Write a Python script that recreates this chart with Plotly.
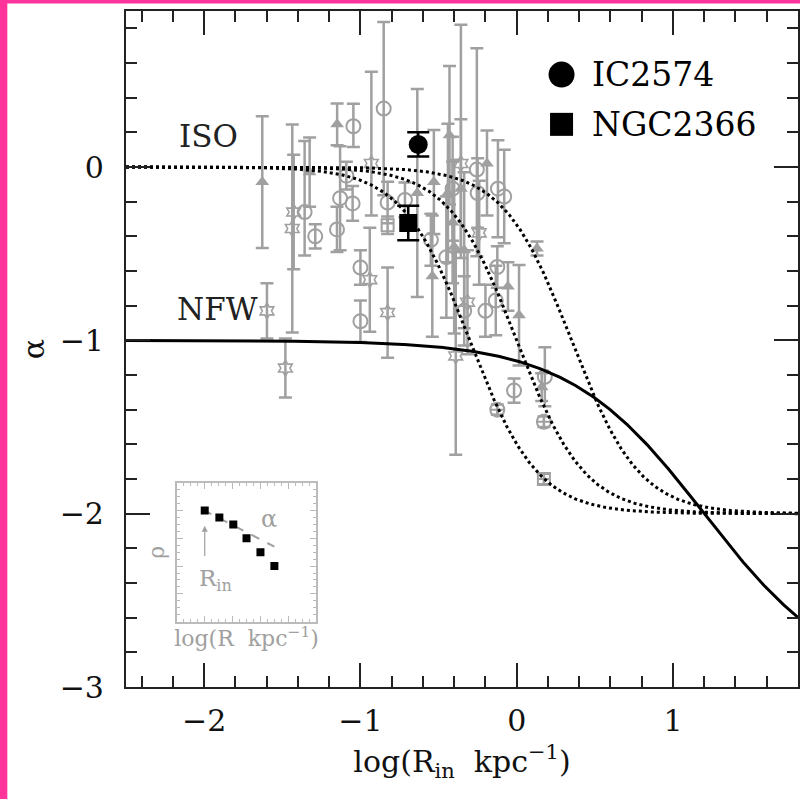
import numpy as np
import plotly.graph_objects as go

# ---------------- data ----------------
# open circles
circ_x = [-1.357, -1.289, -1.045, -1.13, -1.15, -1.05, -1.00, -1.00, -1.09, -0.851,
          -0.826, -0.715, -0.549, -0.45, -0.41, -0.336, -0.255, -0.25, -0.12, -0.08,
          -0.124, -0.20, -0.134, 0.18, -0.017]
circ_y = [-0.26, -0.40, 0.235, -0.18, -0.36, -0.21, -0.58, -0.89, -0.05, 0.337,
          -0.205, -0.19, -0.42, -0.52, -0.125, -0.83, -0.015, -0.15, -0.125, -0.17,
          -0.577, -0.83, -0.77, -1.21, -1.29]
circ_up = [0.41, 0.07, 0.13, 0.30, 0.13, 0.10, 0.10, 0.12, 0.08, 0.50,
           0.12, 0.10, 0.15, 0.35, 0.30, 0.20, 0.70, 0.20, 0.28, 0.27,
           0.12, 0.15, 0.20, 0.17, 0.07]
circ_dn = [0.25, 0.07, 0.12, 0.30, 0.13, 0.10, 0.10, 0.12, 0.08, 0.50,
           0.12, 0.10, 0.15, 0.35, 0.30, 0.20, 0.50, 0.20, 0.28, 0.27,
           0.12, 0.15, 0.20, 0.17, 0.07]

# crossed circles
ccirc_x = [-0.124, 0.174]
ccirc_y = [-1.40, -1.47]
ccirc_e = [0.03, 0.03]

# filled triangles
tri_x = [-1.628, -1.325, -1.149, -0.636, -0.53, -0.54, -0.43, -0.44, -0.41, -0.40,
         -0.357, -0.336, -0.19, -0.056, 0.015, 0.13, 0.16]
tri_y = [-0.087, -0.03, 0.246, -0.15, -0.087, -0.63, 0.183, -0.15, -0.32, -0.46,
         -0.125, -0.48, 0.02, -0.69, -0.855, -0.47, -1.27]
tri_up = [0.38, 0.20, 0.12, 0.60, 0.30, 0.35, 0.40, 0.40, 0.35, 0.50,
          0.40, 0.45, 0.19, 0.14, 0.29, 0.04, 0.08]
tri_dn = [0.38, 0.20, 0.12, 0.60, 0.30, 0.35, 0.40, 0.40, 0.35, 0.50,
          0.40, 0.45, 0.30, 0.14, 0.29, 0.04, 0.08]

# stars
star_x = [-1.427, -1.436, -1.598, -1.48, -0.93, -0.94, -0.826, -0.357, -0.315, -0.39, -0.24]
star_y = [-0.26, -0.355, -0.83, -1.16, 0.02, -0.65, -0.84, 0.02, -0.78, -1.09, -0.38]
star_up = [0.33, 0.60, 0.16, 0.17, 0.53, 0.30, 0.26, 0.80, 0.30, 0.60, 0.30]
star_dn = [0.33, 0.60, 0.16, 0.17, 0.30, 0.30, 0.26, 0.50, 0.30, 0.57, 0.30]

# open squares
sq_x = [-0.826]
sq_y = [-0.336]
sq_e = [0.05]

# crossed squares
csq_x = [0.174]
csq_y = [-1.80]
csq_e = [0.03]

# highlighted galaxies
gal_names = ["IC2574", "NGC2366"]
gal_x = [-0.63, -0.694]
gal_y = [0.13, -0.323]
gal_e = [0.07, 0.10]

# model parameters
iso_log_rc = [-0.30, 0.0, 0.35]
nfw_log_rs = 1.2

# inset: density profile sketch
ins_x = [0.20, 0.305, 0.405, 0.50, 0.60, 0.70]
ins_y = [0.80, 0.75, 0.70, 0.60, 0.50, 0.40]

# ---------------- figure ----------------
GREY = "#a0a0a0"
FONT = "DejaVu Serif"
fig = go.Figure()

def grey_trace(x, y, up, dn, symbol, size, lw=2):
    fig.add_trace(go.Scatter(
        x=x, y=y, mode="markers",
        marker=dict(symbol=symbol, size=size, color=GREY, line=dict(color=GREY, width=lw)),
        error_y=dict(type="data", symmetric=False, array=up, arrayminus=dn,
                     color=GREY, thickness=2.5, width=6.5),
        showlegend=False, hoverinfo="skip"))

grey_trace(circ_x, circ_y, circ_up, circ_dn, "circle-open", 14)
grey_trace(ccirc_x, ccirc_y, ccirc_e, ccirc_e, "circle-cross-open", 14)
grey_trace(tri_x, tri_y, tri_up, tri_dn, "triangle-up", 12, 0)
grey_trace(star_x, star_y, star_up, star_dn, "hexagram-open", 12, 1.6)
grey_trace(sq_x, sq_y, sq_e, sq_e, "square-open", 12)
grey_trace(csq_x, csq_y, csq_e, csq_e, "square-cross-open", 12)

# model curves
r = np.linspace(-2.5, 1.8, 600)
for lrc in iso_log_rc:
    q = 10 ** (2 * (r - lrc))
    fig.add_trace(go.Scatter(x=r, y=-2 * q / (1 + q), mode="lines",
                             line=dict(color="black", width=3, dash="dot"),
                             showlegend=False, hoverinfo="skip"))
s = 10 ** (r - nfw_log_rs)
fig.add_trace(go.Scatter(x=r, y=-1 - 2 * s / (1 + s), mode="lines",
                         line=dict(color="black", width=3),
                         showlegend=False, hoverinfo="skip"))

# highlighted galaxies
gal_symbols = ["circle", "square"]
gal_sizes = [19, 18]
for i in range(2):
    fig.add_trace(go.Scatter(
        x=[gal_x[i]], y=[gal_y[i]], mode="markers",
        marker=dict(symbol=gal_symbols[i], size=gal_sizes[i], color="#000000",
                    opacity=1, line=dict(width=0)),
        error_y=dict(type="data", array=[gal_e[i]], color="black", thickness=2.5, width=11),
        showlegend=False, hoverinfo="skip"))

# key
key_x = [0.287, 0.287]
key_y = [0.533, 0.246]
key_sizes = [26, 23]
for i in range(2):
    fig.add_trace(go.Scatter(x=[key_x[i]], y=[key_y[i]], mode="markers",
                             marker=dict(symbol=gal_symbols[i], size=key_sizes[i],
                                         color="#000000", opacity=1,
                                         line=dict(color="#000000", width=0)),
                             showlegend=False, hoverinfo="skip"))
    fig.add_annotation(x=0.472, y=key_y[i], xref="x", yref="y", text=gal_names[i],
                       showarrow=False, xanchor="left", yanchor="middle",
                       font=dict(family=FONT, size=33, color="black"))

fig.add_annotation(x=-1.973, y=0.177, xref="x", yref="y", text="ISO", showarrow=False,
                   font=dict(family=FONT, size=31, color="#222"))
fig.add_annotation(x=-1.913, y=-0.82, xref="x", yref="y", text="NFW", showarrow=False,
                   font=dict(family=FONT, size=31, color="#222"))

# inset
fig.add_trace(go.Scatter(x=[0.19, 0.70], y=[0.805, 0.54], mode="lines",
                         line=dict(color=GREY, width=2, dash="dash"),
                         xaxis="x2", yaxis="y2", showlegend=False, hoverinfo="skip"))
fig.add_trace(go.Scatter(x=ins_x, y=ins_y, mode="markers",
                         marker=dict(symbol="square", size=8, color="black"),
                         xaxis="x2", yaxis="y2", showlegend=False, hoverinfo="skip"))
fig.add_annotation(x=0.20, y=0.69, ax=0.20, ay=0.40, xref="x2", yref="y2",
                   axref="x2", ayref="y2", text=" ", showarrow=True, arrowhead=2,
                   arrowsize=1, arrowwidth=1.2, arrowcolor=GREY)
fig.add_annotation(x=0.66, y=0.74, xref="x2", yref="y2", text="α", showarrow=False,
                   font=dict(family=FONT, size=24, color=GREY))
fig.add_annotation(x=0.28, y=0.30, xref="x2", yref="y2", text="R<sub>in</sub>",
                   showarrow=False, font=dict(family=FONT, size=23, color=GREY))

# frame decoration
PINK = "#ff3399"
fig.add_shape(type="rect", xref="paper", yref="paper", x0=-0.19, x1=-0.1766,
              y0=-0.17, y1=1.02, fillcolor=PINK, line_width=0, layer="above")
fig.add_shape(type="rect", xref="paper", yref="paper", x0=-0.19, x1=1.01,
              y0=1.0111, y1=1.02, fillcolor=PINK, line_width=0, layer="above")

axis_common = dict(ticks="inside", showline=True, linecolor="#222", linewidth=2.2,
                   tickcolor="#222", tickwidth=2, ticklen=24, mirror="allticks",
                   showgrid=False, zeroline=False,
                   tickfont=dict(family=FONT, size=30, color="#111"))

fig.update_layout(
    width=800, height=799,
    margin=dict(l=126, r=0, t=11, b=112),
    paper_bgcolor="white", plot_bgcolor="white",
    xaxis=dict(range=[-2.5, 1.8], dtick=1, tick0=0,
               minor=dict(dtick=0.2, ticklen=11, ticks="inside", tickcolor="#222", tickwidth=2),
               title=dict(text="log(R<sub>in</sub>  kpc<sup>−1</sup>)",
                          font=dict(family=FONT, size=30, color="#111"), standoff=14),
               ticklabelstandoff=6, **axis_common),
    yaxis=dict(range=[-3, 0.9], dtick=1, tick0=0,
               minor=dict(dtick=0.2, ticklen=11, ticks="inside", tickcolor="#222", tickwidth=2),
               title=dict(text="α", font=dict(family=FONT, size=30, color="#111"), standoff=6),
               ticklabelstandoff=14, **axis_common),
    xaxis2=dict(domain=[0.0757, 0.283], anchor="y2", range=[0, 1], showticklabels=False,
                ticks="inside", dtick=0.2, ticklen=6, tickcolor="#bbb", tickwidth=1,
                minor=dict(dtick=0.05, ticklen=3, ticks="inside", tickcolor="#bbb"),
                showline=True, linecolor="#bbb", linewidth=1.5, mirror="allticks",
                showgrid=False, zeroline=False,
                title=dict(text="log(R  kpc<sup>−1</sup>)", standoff=8,
                           font=dict(family=FONT, size=22, color=GREY))),
    yaxis2=dict(domain=[0.0967, 0.302], anchor="x2", range=[0, 1], showticklabels=False,
                ticks="inside", dtick=0.2, ticklen=6, tickcolor="#bbb", tickwidth=1,
                minor=dict(dtick=0.05, ticklen=3, ticks="inside", tickcolor="#bbb"),
                showline=True, linecolor="#bbb", linewidth=1.5, mirror="allticks",
                showgrid=False, zeroline=False,
                title=dict(text="ρ", standoff=4, font=dict(family=FONT, size=22, color=GREY))),
)

fig.write_html("out.html")
